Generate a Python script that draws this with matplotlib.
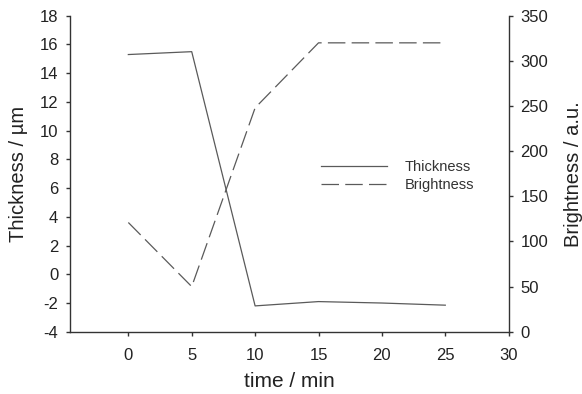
import matplotlib as mpl
import matplotlib.pyplot as plt

mpl.rcParams.update({
    "font.family": ["Liberation Sans", "DejaVu Sans"],
    "font.size": 12,
    "axes.edgecolor": "#333333",
    "axes.linewidth": 1.0,
    "axes.unicode_minus": False,
    "xtick.color": "#333333",
    "ytick.color": "#333333",
})

time = [0, 5, 10, 15, 20, 25]
thickness = [15.3, 15.5, -2.2, -1.9, -2.0, -2.15]
brightness = [121, 50, 248, 320, 320, 320]

LINE = "#5a5a5a"

fig = plt.figure(figsize=(5.82, 3.94), dpi=100)
ax = fig.add_axes([0.1203, 0.158, 0.7537, 0.802])
ax2 = ax.twinx()

l1, = ax.plot(time, thickness, color=LINE, lw=0.9, label="Thickness")
l2, = ax2.plot(time, brightness, color=LINE, lw=0.9, dashes=(14, 5), label="Brightness")

ax.set_xlim(-4.6, 30)
ax.set_xticks(range(0, 31, 5))
ax.set_ylim(-4, 18)
ax.set_yticks(range(-4, 19, 2))
ax2.set_ylim(0, 350)
ax2.set_yticks(range(0, 351, 50))

for a in (ax, ax2):
    a.spines["top"].set_visible(False)
    a.tick_params(direction="out", length=3, width=1.0, labelcolor="#222222",
                  labelsize=12)
ax.tick_params(axis="x", pad=8.5)
ax.tick_params(axis="y", pad=5.5)
ax2.tick_params(axis="y", pad=5.5)
ax.spines["right"].set_visible(False)
ax2.spines["left"].set_visible(False)
ax2.spines["bottom"].set_visible(False)

ax.set_xlabel("time / min", fontsize=15, color="#222222", labelpad=7)
ax.set_ylabel("Thickness / \u00b5m", fontsize=14.5, color="#222222", labelpad=8)
ax2.set_ylabel("Brightness / a.u.", fontsize=14.5, color="#222222", labelpad=11)

leg = ax.legend(handles=[l1, l2], loc="center left", frameon=False, fontsize=10.5,
                handlelength=4.5, handletextpad=1.2, labelspacing=0.25,
                bbox_to_anchor=(308 / 582, 1 - 176 / 394),
                bbox_transform=fig.transFigure)
for t in leg.get_texts():
    t.set_color("#333333")

fig.savefig("out.png", dpi=100)
